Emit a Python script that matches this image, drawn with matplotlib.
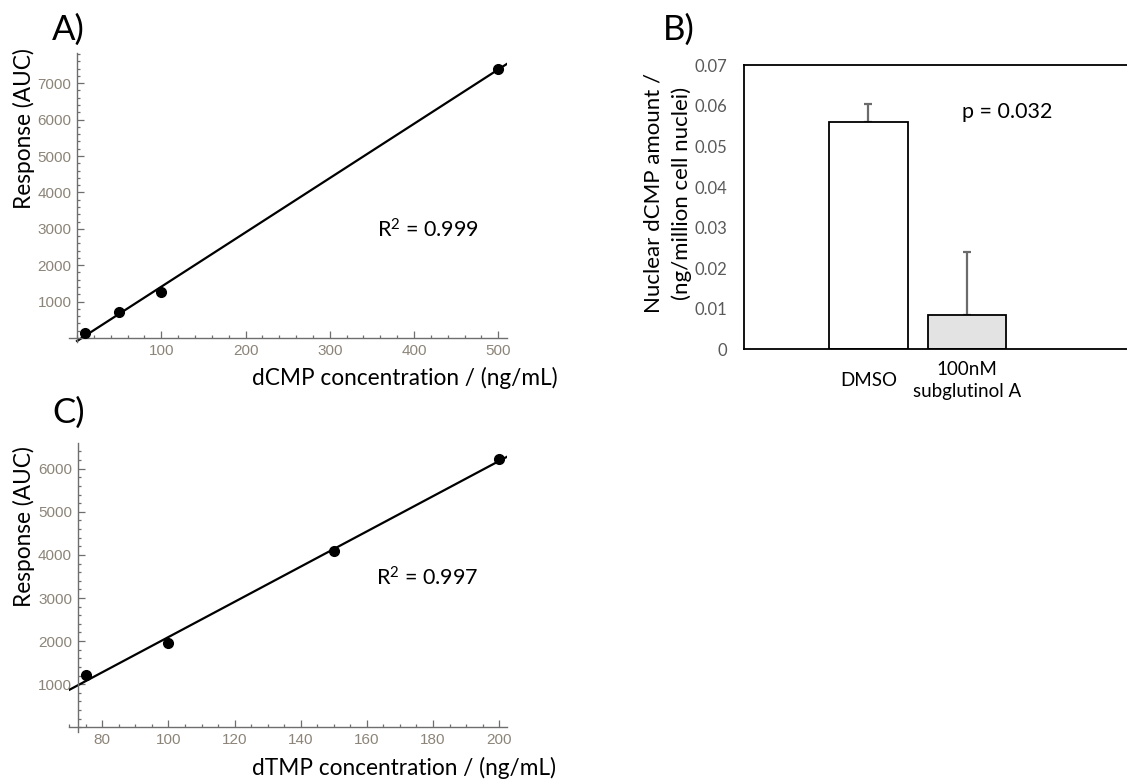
import numpy as np
import matplotlib
matplotlib.use('Agg')
import matplotlib.pyplot as plt
from matplotlib.ticker import MultipleLocator, FixedLocator

# calibration data for dCMP (panel A)
dcmp_conc = [10, 50, 100, 500]
dcmp_auc = [130, 725, 1260, 7400]
dcmp_r2 = '0.999'

# calibration data for dTMP (panel C)
dtmp_conc = [75, 100, 150, 200]
dtmp_auc = [1210, 1945, 4095, 6235]
dtmp_r2 = '0.997'

# nuclear dCMP amount (panel B)
treatments = ['DMSO', '100nM\nsubglutinol A']
nuclear_dcmp = [0.056, 0.0085]
nuclear_err = [0.0045, 0.0155]
bar_colors = ['white', '#e3e3e3']
p_value = '0.032'

W, H = 1127, 782
LABEL_FONT = 'Lato'
TICK_FONT = 'Liberation Sans'
tick_grey = '#8c8478'
axis_grey = '#6e6e6e'

plt.rcParams['mathtext.fontset'] = 'custom'
plt.rcParams['mathtext.rm'] = LABEL_FONT
plt.rcParams['mathtext.it'] = LABEL_FONT

fig = plt.figure(figsize=(W / 100, H / 100), dpi=100)


def px_axes(x0, y0, x1, y1):
    # axes rectangle given in pixel corners (top-left origin)
    return fig.add_axes([x0 / W, 1 - y1 / H, (x1 - x0) / W, (y1 - y0) / H])


def ftext(x, y, s, **kw):
    kw.setdefault('family', LABEL_FONT)
    return fig.text(x / W, 1 - y / H, s, **kw)


def calib_panel(ax, conc, auc, xlim, ylim, yaxis_at, xmajor, xminor, ymajor, line_from):
    slope, intercept = np.polyfit(conc, auc, 1)
    xs = np.array([line_from, xlim[1]])
    ax.plot(xs, slope * xs + intercept, color='black', lw=1.6, zorder=2)
    ax.plot(conc, auc, 'o', color='black', ms=7, zorder=3)
    ax.set_xlim(*xlim)
    ax.set_ylim(*ylim)
    for s in ['top', 'right']:
        ax.spines[s].set_visible(False)
    ax.spines['left'].set_position(('data', yaxis_at))
    ax.spines['bottom'].set_position(('data', 0))
    for s in ['left', 'bottom']:
        ax.spines[s].set_color(axis_grey)
        ax.spines[s].set_linewidth(1.0)
    ax.xaxis.set_major_locator(FixedLocator(xmajor))
    ax.xaxis.set_minor_locator(MultipleLocator(xminor))
    ax.yaxis.set_major_locator(FixedLocator(ymajor))
    ax.yaxis.set_minor_locator(MultipleLocator(200))
    ax.tick_params(which='both', direction='in', color=axis_grey, width=0.9,
                   labelcolor=tick_grey, labelsize=11, pad=4)
    ax.tick_params(which='major', length=5)
    ax.tick_params(which='minor', length=2.5)
    for lab in ax.get_xticklabels() + ax.get_yticklabels():
        lab.set_family(TICK_FONT)
    ax.patch.set_alpha(0)


# panel A
axA = px_axes(68.6, 53, 506.7, 342)
calib_panel(axA, dcmp_conc, dcmp_auc, (-10, 510), (-110, 7830), 0,
            [100, 200, 300, 400, 500], 20, [1000, 2000, 3000, 4000, 5000, 6000, 7000], 0)
ftext(52, 30, 'A)', fontsize=25, va='center')
ftext(24, 129, 'Response (AUC)', fontsize=16.3, rotation=90, ha='center', va='center')
ftext(558, 378, 'dCMP concentration / (ng/mL)', fontsize=16.3, ha='right', va='center')
ftext(377, 230, r'R$^2$ = ' + dcmp_r2, fontsize=15.5, va='center')

# panel C
axC = px_axes(69.3, 443.3, 506.7, 731.6)
calib_panel(axC, dtmp_conc, dtmp_auc, (70, 202.3), (-100, 6590), 72.5,
            [80, 100, 120, 140, 160, 180, 200], 5, [1000, 2000, 3000, 4000, 5000, 6000], 70)
ftext(52, 413, 'C)', fontsize=25, va='center')
ftext(24, 527, 'Response (AUC)', fontsize=16.3, rotation=90, ha='center', va='center')
ftext(556, 768, 'dTMP concentration / (ng/mL)', fontsize=16.3, ha='right', va='center')
ftext(376, 578, r'R$^2$ = ' + dtmp_r2, fontsize=15.5, va='center')

# panel B
axB = px_axes(744, 65.3, 1127, 349.3)
xpos = np.arange(len(treatments))
axB.bar(xpos, nuclear_dcmp, width=0.795, color=bar_colors, edgecolor='black',
        linewidth=1.3, zorder=2)
axB.errorbar(xpos, nuclear_dcmp, yerr=[np.zeros(len(nuclear_err)), nuclear_err],
             fmt='none', ecolor='#6b6b6b', elinewidth=1.6, capsize=3, capthick=1.6, zorder=1)
axB.set_xlim(-1.26, 2.62)
axB.set_ylim(0, 0.07)
axB.set_yticks(np.arange(0, 0.0701, 0.01))
axB.set_yticklabels(['0'] + ['%.2f' % v for v in np.arange(0.01, 0.0701, 0.01)])
axB.spines['right'].set_visible(False)
for s in ['left', 'top', 'bottom']:
    axB.spines[s].set_linewidth(1.3)
axB.tick_params(axis='y', length=0, labelsize=12, labelcolor='#595959', pad=12)
axB.tick_params(axis='x', length=0, labelbottom=False)
for lab in axB.get_yticklabels():
    lab.set_family(LABEL_FONT)
for x, name in zip(xpos, treatments):
    axB.text(x, -0.0076, name, ha='center', va='center', fontsize=13.5,
             family=LABEL_FONT, linespacing=1.35, clip_on=False)
ftext(663, 30, 'B)', fontsize=25, va='center')
ftext(653, 193, 'Nuclear dCMP amount /', fontsize=16, rotation=90, ha='center', va='center')
ftext(682, 193, '(ng/million cell nuclei)', fontsize=16, rotation=90, ha='center', va='center')
ftext(962, 112, 'p = ' + p_value, fontsize=15.5, va='center')

fig.savefig('out.png', dpi=100)
